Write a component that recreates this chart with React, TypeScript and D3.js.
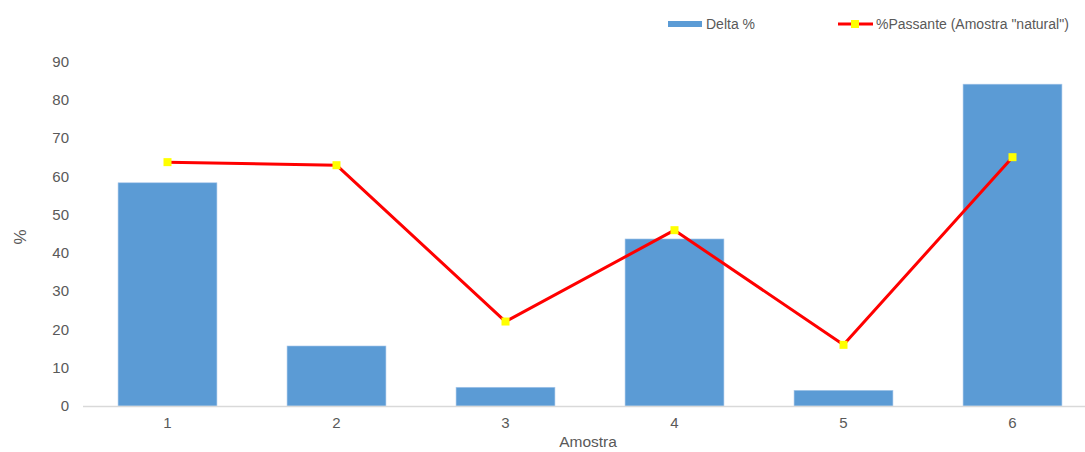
import React from "react";
import * as d3 from "d3";

const categories = ["1", "2", "3", "4", "5", "6"];
const deltaValues = [58.4, 15.7, 4.9, 43.7, 4.1, 84.2];
const passanteValues = [63.8, 63.0, 22.1, 46.0, 16.0, 65.1];
const yTicks = [0, 10, 20, 30, 40, 50, 60, 70, 80, 90];
const seriesNames = ["Delta %", '%Passante (Amostra "natural")'];

const W = 1085;
const H = 452;
const FONT = "'Liberation Sans', Arial, sans-serif";
const TEXT = "#595959";

export default function App() {
  const x = d3.scaleBand<string>().domain(categories).range([83, 1097]).paddingInner(0.415).paddingOuter(0.2075);
  const y = d3.scaleLinear().domain([0, 90]).range([406, 62]);
  const center = (c: string) => (x(c) as number) + x.bandwidth() / 2;

  const line = d3
    .line<number>()
    .x((_, i) => center(categories[i]))
    .y((v) => y(v));

  return (
    <svg
      width={W}
      height={H}
      style={{ position: "absolute", left: 0, top: 0, background: "#fff", fontFamily: FONT }}
    >
      {/* y tick labels */}
      {yTicks.map((t) => (
        <text key={t} x={69} y={y(t) + 5} textAnchor="end" fontSize={15} fill={TEXT}>
          {t}
        </text>
      ))}

      {/* bars */}
      {deltaValues.map((v, i) => (
        <rect
          key={i}
          x={x(categories[i])}
          y={y(v)}
          width={x.bandwidth()}
          height={y(0) - y(v)}
          fill="#5B9BD5"
          stroke="#A9C8EA"
          strokeWidth={0.6}
        />
      ))}

      {/* x axis line */}
      <line x1={83} x2={W} y1={y(0) + 0.5} y2={y(0) + 0.5} stroke="#D9D9D9" strokeWidth={1.5} />

      {/* x tick labels */}
      {categories.map((c) => (
        <text key={c} x={center(c)} y={428} textAnchor="middle" fontSize={15} fill={TEXT}>
          {c}
        </text>
      ))}

      {/* line series */}
      <path d={line(passanteValues) || ""} fill="none" stroke="#FF0000" strokeWidth={3} strokeLinejoin="round" />
      {passanteValues.map((v, i) => (
        <rect key={i} x={center(categories[i]) - 4} y={y(v) - 4} width={8} height={8} fill="#FFFF00" />
      ))}

      {/* axis titles */}
      <text x={588} y={447} textAnchor="middle" fontSize={15.5} fill={TEXT}>
        Amostra
      </text>
      <text
        transform={`translate(26, 237) rotate(-90)`}
        textAnchor="middle"
        fontSize={17}
        fill={TEXT}
      >
        %
      </text>

      {/* legend */}
      <rect x={668} y={21} width={34} height={6} fill="#5B9BD5" />
      <text x={706} y={29} fontSize={14} fill={TEXT}>
        {seriesNames[0]}
      </text>
      <line x1={838} x2={873} y1={24} y2={24} stroke="#FF0000" strokeWidth={3} />
      <rect x={851} y={20} width={8} height={8} fill="#FFFF00" />
      <text x={876} y={29} fontSize={14} fill={TEXT}>
        {seriesNames[1]}
      </text>
    </svg>
  );
}
